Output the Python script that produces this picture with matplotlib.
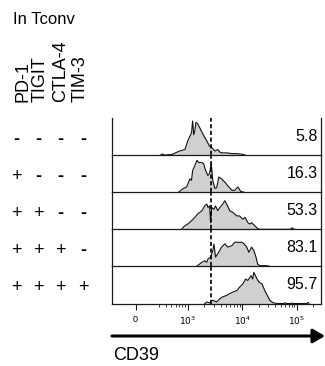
import numpy as np
import matplotlib
matplotlib.use("Agg")
import matplotlib.pyplot as plt
from matplotlib.patches import FancyArrowPatch

plt.rcParams['font.family'] = ['Liberation Sans', 'DejaVu Sans']

# ---------------- data ----------------
markers = ["PD-1", "TIGIT", "CTLA-4", "TIM-3"]
row_signs = [["-", "-", "-", "-"],
             ["+", "-", "-", "-"],
             ["+", "+", "-", "-"],
             ["+", "+", "+", "-"],
             ["+", "+", "+", "+"]]
percent_pos = ["5.8", "16.3", "53.3", "83.1", "95.7"]
gate_log10 = 3.42  # CD39 gate (log10 units)

# histogram outlines: log10(CD39) and height normalised to panel height
r1_x = [2.50, 2.54, 2.58, 2.72, 2.85, 2.95, 3.00, 3.07, 3.09, 3.11, 3.13, 3.15, 3.18,
        3.22, 3.28, 3.35, 3.40, 3.44, 3.50, 3.55, 3.59, 3.62, 3.72, 3.81, 3.90, 4.01, 4.05]
r1_y = [0.00, 0.03, 0.00, 0.02, 0.11, 0.15, 0.38, 0.60, 0.92, 0.55, 0.65, 0.88, 0.85,
        0.74, 0.56, 0.38, 0.24, 0.20, 0.11, 0.15, 0.08, 0.06, 0.06, 0.04, 0.04, 0.02, 0.00]
r2_x = [2.83, 2.85, 2.91, 2.98, 3.04, 3.07, 3.09, 3.13, 3.17, 3.20, 3.26, 3.29, 3.33, 3.37,
        3.40, 3.43, 3.46, 3.50, 3.53, 3.57, 3.62, 3.68, 3.73, 3.81, 3.86, 3.92, 3.97, 4.03]
r2_y = [0.00, 0.02, 0.09, 0.14, 0.36, 0.32, 0.58, 0.72, 0.86, 0.80, 0.80, 0.77, 0.58, 0.45,
        0.50, 0.78, 0.30, 0.10, 0.12, 0.41, 0.36, 0.27, 0.18, 0.05, 0.05, 0.14, 0.02, 0.00]
r3_x = [2.89, 2.94, 3.00, 3.07, 3.13, 3.18, 3.26, 3.31, 3.35, 3.37, 3.40, 3.42, 3.44, 3.48,
        3.51, 3.55, 3.59, 3.64, 3.68, 3.73, 3.77, 3.83, 3.90, 3.95, 4.01, 4.05, 4.10, 4.14,
        4.17, 4.23, 4.28, 4.32, 4.87, 4.91, 4.95]
r3_y = [0.00, 0.09, 0.14, 0.23, 0.32, 0.41, 0.50, 0.63, 0.68, 0.59, 0.63, 0.18, 0.59, 0.54,
        0.63, 0.50, 0.59, 0.68, 0.77, 0.63, 0.50, 0.45, 0.36, 0.36, 0.27, 0.32, 0.18, 0.14,
        0.18, 0.09, 0.02, 0.00, 0.00, 0.04, 0.00]
r4_x = [3.16, 3.18, 3.26, 3.31, 3.35, 3.37, 3.42, 3.46, 3.48, 3.51, 3.55, 3.62, 3.68, 3.73,
        3.81, 3.86, 3.92, 3.99, 4.03, 4.08, 4.12, 4.17, 4.21, 4.25, 4.28, 4.32, 4.38, 4.45, 4.50]
r4_y = [0.00, 0.02, 0.11, 0.15, 0.11, 0.20, 0.25, 0.43, 0.60, 0.25, 0.34, 0.52, 0.61, 0.52,
        0.56, 0.65, 0.65, 0.65, 0.61, 0.52, 0.38, 0.52, 0.43, 0.25, 0.06, 0.02, 0.02, 0.02, 0.00]
r5_x = [3.31, 3.35, 3.40, 3.46, 3.53, 3.59, 3.64, 3.72, 3.77, 3.83, 3.90, 3.95, 4.01, 4.06,
        4.10, 4.16, 4.19, 4.21, 4.27, 4.30, 4.36, 4.41, 4.47, 4.50, 4.56, 4.63, 4.76, 4.78,
        4.80, 4.89, 4.91, 4.93, 5.18, 5.20, 5.22]
r5_y = [0.00, 0.04, 0.02, 0.09, 0.04, 0.13, 0.18, 0.22, 0.27, 0.31, 0.35, 0.44, 0.53, 0.66,
        0.62, 0.75, 0.66, 0.84, 0.66, 0.58, 0.53, 0.35, 0.18, 0.09, 0.02, 0.00, 0.00, 0.02,
        0.00, 0.00, 0.01, 0.00, 0.00, 0.03, 0.00]
hist_x = [r1_x, r2_x, r3_x, r4_x, r5_x]
hist_y = [r1_y, r2_y, r3_y, r4_y, r5_y]

major_ticks = [0, 1e3, 1e4, 1e5]
major_labels = ["0", "$10^3$", "$10^4$", "$10^5$"]
minor_ticks = [300, 400, 500, 600, 700, 800, 900,
               2e3, 3e3, 4e3, 5e3, 6e3, 7e3, 8e3, 9e3,
               2e4, 3e4, 4e4, 5e4, 6e4, 7e4, 8e4, 9e4, 2e5]

# ---------------- layout ----------------
W, H = 325, 366
fig = plt.figure(figsize=(W / 100, H / 100), dpi=100)

def fy(py):
    return 1 - py / H

left_px, width_px = 112, 209
top_px, row_h = 118, 37.1
frame_col = '#1a1a1a'

for i in range(5):
    top = top_px + i * row_h
    ax = fig.add_axes([left_px / W, 1 - (top + row_h) / H, width_px / W, row_h / H])
    ax.set_facecolor('none')
    ax.set_xscale('symlog', linthresh=300, linscale=0.388, base=10)
    ax.set_xlim(-300, 2.75e5)
    ax.set_ylim(0, 1)
    x = 10 ** np.array(hist_x[i])
    y = np.array(hist_y[i])
    ax.fill_between(x, y, 0, color='#d0d0d0', lw=0)
    ax.plot(x, y, color='#111111', lw=0.8)
    ax.axvline(10 ** gate_log10, color='black', ls=(0, (2.5, 1.5)), lw=1.2)
    ax.text(0.985, 0.5, percent_pos[i], transform=ax.transAxes, ha='right',
            va='center', fontsize=11.5)
    ax.spines['top'].set_visible(False)
    for s in ['left', 'right', 'bottom']:
        ax.spines[s].set_linewidth(0.9)
        ax.spines[s].set_color(frame_col)
    ax.set_yticks([])
    if i < 4:
        ax.set_xticks([])
        ax.set_xticks([], minor=True)
    else:
        ax.set_xticks(major_ticks)
        ax.set_xticklabels(major_labels, fontsize=6.5)
        ax.set_xticks(minor_ticks, minor=True)
        ax.tick_params(axis='x', which='major', length=4, width=0.8, pad=4, color=frame_col)
        ax.tick_params(axis='x', which='minor', length=2.5, width=0.6, color=frame_col)

# ---------------- left annotations ----------------
fig.text(13 / W, fy(19), "In Tconv", fontsize=12, va='center', ha='left')
col_x = [23, 40, 61, 80]
for j, m in enumerate(markers):
    fig.text(col_x[j] / W, fy(102), m, rotation=90, ha='center', va='bottom', fontsize=13)
sign_x = [16, 38, 60, 83]
for i, signs in enumerate(row_signs):
    yc = top_px + (i + 0.5) * row_h + 2.5
    for j, s in enumerate(signs):
        fig.text(sign_x[j] / W, fy(yc), s, ha='center', va='center', fontsize=13,
                 fontweight='bold' if s == '-' else 'normal')

# ---------------- CD39 arrow ----------------
arrow = FancyArrowPatch((112 / W, fy(336)), (325 / W, fy(336)), transform=fig.transFigure,
                        arrowstyle='-|>,head_length=0.6,head_width=0.35', mutation_scale=12,
                        lw=2.2, color='black', shrinkA=0, shrinkB=0)
fig.add_artist(arrow)
fig.text(113 / W, fy(355), "CD39", fontsize=13, va='center', ha='left')

fig.savefig("out.png", dpi=100)
